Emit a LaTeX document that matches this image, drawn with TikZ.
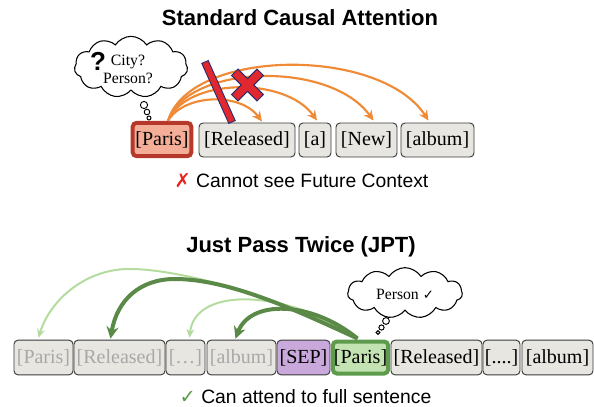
\documentclass[tikz,border=0pt]{standalone}
\usepackage{fontspec}
\setmainfont{Liberation Serif}
\newfontfamily\arialf{Liberation Sans}
\newfontfamily\dejavuf{DejaVu Sans}
\usetikzlibrary{shapes.symbols,arrows.meta,calc}
\definecolor{tokfill}{HTML}{E8E6E1}
\definecolor{tokline}{HTML}{3A3A3A}
\definecolor{parisfill}{HTML}{F4AE98}
\definecolor{parisline}{HTML}{B5382B}
\definecolor{sepfill}{HTML}{C9A9DB}
\definecolor{gfill}{HTML}{C4E3B2}
\definecolor{gline}{HTML}{5E9B4C}
\definecolor{graytxt}{HTML}{A8A8A8}
\definecolor{orangec}{HTML}{EF8A36}
\definecolor{darkg}{HTML}{5B8A48}
\definecolor{lightg}{HTML}{B4DC9F}
\definecolor{xred}{HTML}{E0282E}
\definecolor{xnavy}{HTML}{2B2D6E}
\definecolor{capred}{HTML}{E8231E}
\definecolor{capgreen}{HTML}{5A9A4A}
\begin{document}
\begin{tikzpicture}[x=0.75pt,y=-0.75pt,
  tok/.style={draw=tokline, line width=0.7pt, fill=tokfill, rounded corners=3pt,
    minimum height=25.5pt, inner sep=0.5pt, font=\fontsize{15}{18}\selectfont},
  ghost/.style={tok, text=graytxt},
  title/.style={font=\arialf\bfseries\fontsize{16.5}{20}\selectfont},
  caption/.style={font=\arialf\fontsize{14.5}{17}\selectfont},
  thought/.style={cloud, draw=black, line width=0.8pt, fill=white, cloud puffs=11,
    cloud puff arc=115, cloud ignores aspect, inner sep=0pt},
  bubble/.style={draw=black, line width=0.7pt, fill=white},
  orarr/.style={draw=orangec, line width=1.6pt, -{Stealth[length=7.5pt,width=7pt]}},
  dgarr/.style={draw=darkg, line width=3pt, -{Stealth[length=9pt,width=9pt]}},
  lgarr/.style={draw=lightg, line width=1.5pt, -{Stealth[length=6.5pt,width=6pt]}},
  xshape/.style={fill=xred, draw=xnavy, line width=0.7pt, line join=miter}
]
\useasboundingbox (0,0) rectangle (594,407);

% ---------- Top: Standard Causal Attention ----------
\node[title] (t1) at (300,18) {Standard Causal Attention};

\node[tok, fill=parisfill, draw=parisline, line width=3pt, minimum width=44pt, minimum height=25pt] (p1) at (162,139.5) {[Paris]};
\node[tok, minimum width=72pt] (r1) at (247,140) {[Released]};
\node[tok, minimum width=24pt] (a1) at (315,140) {[a]};
\node[tok, minimum width=45.75pt] (n1) at (366.5,140) {[New]};
\node[tok, minimum width=54.75pt] (al1) at (437.5,140) {[album]};

% thought cloud
\node[thought, minimum width=85pt, minimum height=46pt] (c1) at (131,67) {};
\node[font=\arialf\bfseries\fontsize{19.5}{20}\selectfont] (q1) at (98,61) {?};
\node[font=\fontsize{11.8}{13}\selectfont] (c1a) at (128,62) {City?};
\node[font=\fontsize{11.8}{13}\selectfont] (c1b) at (128,78) {Person?};
\draw[bubble] (144,105) circle[radius=3.6];
\draw[bubble] (147,112) circle[radius=2.8];
\draw[bubble] (149,118) circle[radius=2];

% orange attention arcs
\coordinate (s1) at ($(p1.north)+(6,0)$);
\draw[orarr] (s1) .. controls (190,48) and (380,46) .. ($(al1.north)+(-9,-2)$);
\draw[orarr] (s1) .. controls (188,64) and (330,60) .. ($(n1.north)+(7,-2)$);
\draw[orarr] (s1) .. controls (186,78) and (285,76) .. ($(a1.north)+(2,-2)$);
\draw[orarr] (s1) .. controls (184,94) and (240,92) .. ($(r1.north)+(15,-1)$);

% red slash
\draw[xshape] (208.2,60.6) -- (201.8,63.4) -- (228.8,123.4) -- (235.2,120.6) -- cycle;
% red X
\begin{scope}[shift={(247.5,85)}, rotate=45]
\draw[xshape] (4.5,4.5) -- (4.5,18) -- (-4.5,18) -- (-4.5,4.5) -- (-18,4.5) -- (-18,-4.5)
  -- (-4.5,-4.5) -- (-4.5,-18) -- (4.5,-18) -- (4.5,-4.5) -- (18,-4.5) -- (18,4.5) -- cycle;
\end{scope}

\node[caption] (cap1) at (301.5,181) {{\dejavuf\color{capred}✗}\ Cannot see Future Context};

% ---------- Bottom: Just Pass Twice ----------
\node[title] (t2) at (301,247) {Just Pass Twice (JPT)};

\node[ghost, minimum width=44.25pt, minimum height=26pt] (bp) at (43.5,357.5) {[Paris]};
\node[ghost, minimum width=68.25pt, minimum height=26pt] (br) at (119.5,357.5) {[Released]};
\node[ghost, minimum width=29.25pt, minimum height=26pt] (bd) at (185.5,357.5) {[…]};
\node[ghost, minimum width=51.75pt, minimum height=26pt] (ba) at (241.5,357.5) {[album]};
\node[tok, fill=sepfill, minimum width=39.75pt, minimum height=26pt] (bs) at (303.5,357.5) {[SEP]};
\node[tok, fill=gfill, draw=gline, line width=3pt, minimum width=41.5pt, minimum height=24pt] (bpg) at (360.5,357.5) {[Paris]};
\node[tok, minimum width=68.25pt, minimum height=26pt] (br2) at (436.5,357.5) {[Released]};
\node[tok, minimum width=27.75pt, minimum height=26pt] (bd2) at (501.5,357.5) {[....]};
\node[tok, minimum width=53.25pt, minimum height=26pt] (ba2) at (557.5,357.5) {[album]};

% thought cloud
\node[thought, minimum width=86pt, minimum height=38pt] (c2) at (405,293) {};
\node[font=\fontsize{11.8}{13}\selectfont] (c2a) at (405,294) {Person {\dejavuf\fontsize{10}{12}\selectfont ✓}};
\draw[bubble] (386,321) circle[radius=3.4];
\draw[bubble] (381.5,327.5) circle[radius=2.6];
\draw[bubble] (378,332.5) circle[radius=1.9];

% green attention arcs
\coordinate (g1) at ($(bpg.north)+(-3,-1)$);
\draw[lgarr] (g1) .. controls (290,300) and (180,268) .. (127,269)
   .. controls (85,270) and (50,300) .. ($(bp.north)+(-5,-2)$);
\draw[lgarr] (g1) .. controls (290,290) and (195,285) .. ($(bd.north)+(4,-2)$);
\draw[dgarr] (g1) .. controls (300,312) and (230,279) .. (175,279)
   .. controls (140,279) and (117,300) .. ($(br.north)+(-9,-1)$);
\draw[dgarr] (g1) .. controls (310,300) and (250,300) .. ($(ba.north)+(-6,-1)$);

\node[caption] (cap2) at (305.5,397) {{\dejavuf\color{capgreen}✓}\ Can attend to full sentence};
\end{tikzpicture}
\end{document}
